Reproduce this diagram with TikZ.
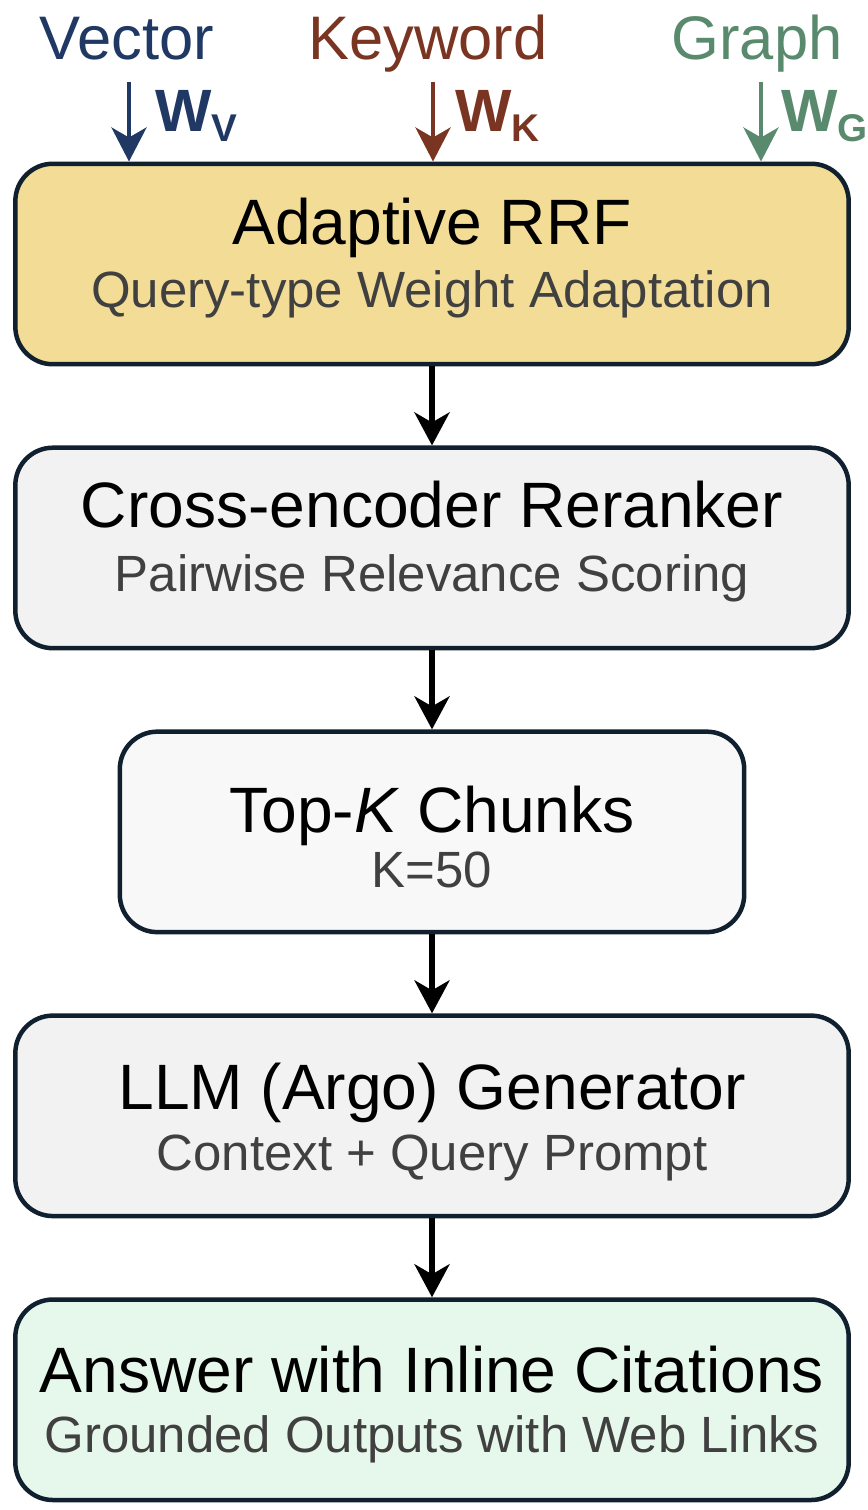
\documentclass[tikz,border=0pt]{standalone}
\usepackage{fontspec}
\setmainfont{Liberation Sans}
\usetikzlibrary{arrows.meta, positioning}
\definecolor{ragLine}{HTML}{10202E}
\definecolor{ragVec}{HTML}{203864}
\definecolor{ragKey}{HTML}{7A3522}
\definecolor{ragGraph}{HTML}{5A8A6E}
\definecolor{ragRRF}{HTML}{F2DC96}
\definecolor{ragGray}{HTML}{F2F2F2}
\definecolor{ragLight}{HTML}{F8F8F8}
\definecolor{ragMint}{HTML}{E6F7EB}
\definecolor{ragSub}{HTML}{404040}
\newcommand{\wlabel}[1]{W\raisebox{-0.2cm}{\fontsize{22}{22}\selectfont #1}}

\begin{document}
\begin{tikzpicture}[
    x=0.02cm, y=-0.02cm,
    node distance=1.58cm,
    stage/.style={rectangle, rounded corners=0.75cm, draw=ragLine, line width=0.09cm,
                  minimum width=16.67cm, minimum height=4.01cm, inner sep=0pt},
    title/.style={font=\fontsize{36.5}{36.5}\selectfont, anchor=base, inner sep=0pt},
    subtitle/.style={font=\fontsize{29}{29}\selectfont, text=ragSub, anchor=base, inner sep=0pt},
    source/.style={font=\fontsize{35}{35}\selectfont, anchor=base, inner sep=0pt},
    weight/.style={font=\fontsize{34}{34}\selectfont\bfseries, anchor=base west, inner sep=0pt},
    inarr/.style={-{Stealth[length=0.68cm, width=0.7cm, inset=0.2cm]}, line width=0.09cm},
    flow/.style={-{Stealth[length=0.66cm, width=0.7cm, inset=0.2cm]}, line width=0.12cm, black},
  ]
    \useasboundingbox (0,0) rectangle (868,1510);

    % retrieval sources
    \node[source, ragVec] (vec) at (127,60) {Vector};
    \node[source, ragKey] (key) at (428,60) {Keyword};
    \node[source, ragGraph] (graph) at (757,60) {Graph};

    % pipeline boxes
    \node[stage, fill=ragRRF] (rrf) at (432,264) {};
    \node[stage, fill=ragGray, below=of rrf] (rerank) {};
    \node[stage, fill=ragLight, minimum width=12.49cm, below=of rerank] (topk) {};
    \node[stage, fill=ragGray, below=of topk] (llm) {};
    \node[stage, fill=ragMint, below=of llm] (answer) {};

    \node[title] (rrft) at ([yshift=0.4cm]rrf.center) {Adaptive RRF};
    \node[subtitle] (rrfs) at ([yshift=-0.88cm]rrf.center) {Query-type Weight Adaptation};
    \node[title] (rerankt) at ([yshift=0.4cm]rerank.center) {Cross-encoder Reranker};
    \node[subtitle] (reranks) at ([yshift=-0.88cm]rerank.center) {Pairwise Relevance Scoring};
    \node[title] (topkt) at ([yshift=-0.02cm]topk.center) {Top-\textit{K} Chunks};
    \node[subtitle] (topks) at ([yshift=-1.12cm]topk.center) {K=50};
    \node[title] (llmt) at ([yshift=0.13cm]llm.center) {LLM (Argo) Generator};
    \node[subtitle] (llms) at ([yshift=-1.09cm]llm.center) {Context + Query Prompt};
    \node[title] (answert) at ([yshift=0.15cm]answer.center) {Answer with Inline Citations};
    \node[subtitle] (answers) at ([yshift=-1.05cm]answer.center) {Grounded Outputs with Web Links};

    % weighted inputs
    \coordinate (vin) at (129,82);
    \coordinate (kin) at (433,82);
    \coordinate (gin) at (761,82);
    \draw[inarr, ragVec] (vin) -- (vin |- rrf.north);
    \draw[inarr, ragKey] (kin) -- (kin |- rrf.north);
    \draw[inarr, ragGraph] (gin) -- (gin |- rrf.north);
    \node[weight, ragVec] (wv) at (155,132) {\wlabel{V}};
    \node[weight, ragKey] (wk) at (455,132) {\wlabel{K}};
    \node[weight, ragGraph] (wg) at (781,132) {\wlabel{G}};

    \draw[flow] (rrf) -- (rerank);
    \draw[flow] (rerank) -- (topk);
    \draw[flow] (topk) -- (llm);
    \draw[flow] (llm) -- (answer);
  \end{tikzpicture}
\end{document}
